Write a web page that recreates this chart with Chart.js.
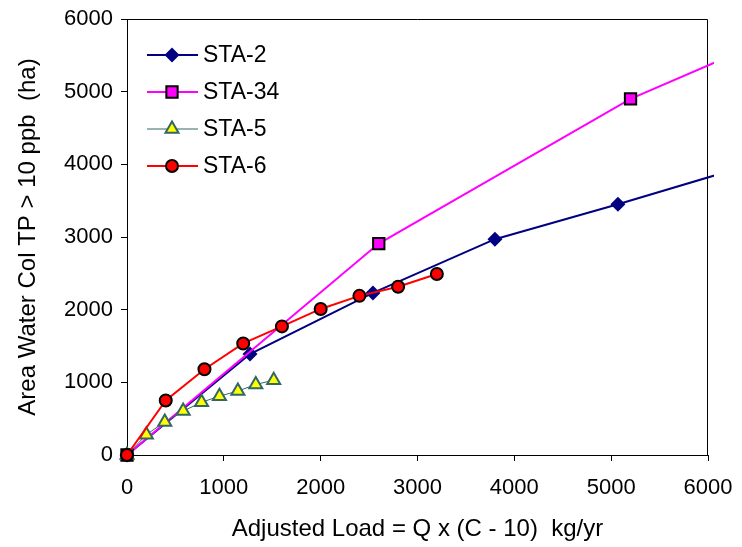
<!DOCTYPE html>
<html>
<head>
<meta charset="utf-8">
<script src="https://cdn.jsdelivr.net/npm/chart.js@4/dist/chart.umd.min.js"></script>
<style>
  body { margin: 0; background: #fff; }
  canvas { display: block; }
</style>
</head>
<body>
<canvas id="myChart" width="742" height="547"></canvas>
<script>
// datos
const labels = ["STA-2", "STA-34", "STA-5", "STA-6"];

const sta2X = [0, 1270, 2540, 3800, 5070, 6340];
const sta2Y = [0, 1390, 2230, 2970, 3450, 3955];

const sta34X = [0, 2600, 5200, 7800];
const sta34Y = [0, 2910, 4900, 6400];

const sta5X = [0, 200, 390, 580, 770, 955, 1145, 1330, 1515];
const sta5Y = [0, 280, 455, 605, 725, 810, 880, 970, 1030];

const sta6X = [0, 400, 800, 1200, 1600, 2000, 2400, 2800, 3200];
const sta6Y = [0, 750, 1180, 1535, 1770, 2010, 2190, 2315, 2490];

const xTicks = [0, 1000, 2000, 3000, 4000, 5000, 6000];
const yTicks = [0, 1000, 2000, 3000, 4000, 5000, 6000];

const FONT = "'Liberation Sans', Arial, sans-serif";

function puntos(xs, ys) {
  return xs.map((x, i) => ({ x: x, y: ys[i] }));
}

const clipArea = { left: 10, top: 10, right: 6, bottom: 10 };

// borde superior y derecho del area
const bordePlugin = {
  id: "borde",
  beforeDatasetsDraw(chart) {
    const a = chart.chartArea;
    const c = chart.ctx;
    c.save();
    c.strokeStyle = "#000";
    c.lineWidth = 1;
    c.beginPath();
    c.moveTo(a.left, a.top + 0.5);
    c.lineTo(a.right - 0.5, a.top + 0.5);
    c.lineTo(a.right - 0.5, a.bottom);
    c.stroke();
    c.restore();
  },
};

// leyenda estilo excel: linea + marcador
const leyendaPlugin = {
  id: "leyenda",
  afterDatasetsDraw(chart) {
    const c = chart.ctx;
    const rows = [55, 92, 129, 166];
    chart.data.datasets.forEach((ds, i) => {
      const y = rows[i];
      c.save();
      c.strokeStyle = ds.borderColor;
      c.lineWidth = ds.borderWidth;
      c.beginPath();
      c.moveTo(147, y);
      c.lineTo(198, y);
      c.stroke();
      c.fillStyle = ds.pointBackgroundColor;
      c.strokeStyle = ds.pointBorderColor;
      c.lineWidth = ds.pointBorderWidth;
      Chart.helpers.drawPoint(c, { pointStyle: ds.pointStyle, radius: ds.pointRadius, rotation: 0, borderWidth: ds.pointBorderWidth }, 172, y);
      c.fillStyle = "#000";
      c.font = "23px " + FONT;
      c.textAlign = "left";
      c.textBaseline = "middle";
      c.fillText(ds.label, 203, y + 1);
      c.restore();
    });
  },
};

new Chart(document.getElementById("myChart"), {
  type: "line",
  data: {
    datasets: [
      {
        label: labels[0],
        data: puntos(sta2X, sta2Y),
        borderColor: "#000080",
        borderWidth: 2,
        pointStyle: "rectRot",
        pointRadius: 7.5,
        pointBackgroundColor: "#000080",
        pointBorderColor: "#000080",
        pointBorderWidth: 0,
        clip: clipArea,
        order: 4,
      },
      {
        label: labels[1],
        data: puntos(sta34X, sta34Y),
        borderColor: "#FF00FF",
        borderWidth: 2,
        pointStyle: "rect",
        pointRadius: 8,
        pointBackgroundColor: "#FF00FF",
        pointBorderColor: "#000000",
        pointBorderWidth: 2,
        clip: clipArea,
        order: 3,
      },
      {
        label: labels[2],
        data: puntos(sta5X, sta5Y),
        borderColor: "#336666",
        borderWidth: 1,
        pointStyle: "triangle",
        pointRadius: 7.5,
        pointBackgroundColor: "#FFFF00",
        pointBorderColor: "#336666",
        pointBorderWidth: 2,
        clip: clipArea,
        order: 2,
      },
      {
        label: labels[3],
        data: puntos(sta6X, sta6Y),
        borderColor: "#FF0000",
        borderWidth: 2,
        pointStyle: "circle",
        pointRadius: 6,
        pointBackgroundColor: "#FF0000",
        pointBorderColor: "#000000",
        pointBorderWidth: 2,
        clip: clipArea,
        order: 1,
      },
    ],
  },
  options: {
    responsive: false,
    animation: false,
    devicePixelRatio: 1,
    layout: { padding: { top: 19, right: 34, bottom: 0, left: 0 } },
    plugins: {
      legend: { display: false },
      tooltip: { enabled: false },
    },
    elements: { line: { tension: 0 } },
    scales: {
      x: {
        type: "linear",
        min: 0,
        max: 6000,
        afterBuildTicks: (s) => { s.ticks = xTicks.map((v) => ({ value: v })); },
        afterFit: (s) => { s.height = 92; s.paddingLeft = 0; s.paddingRight = 0; },
        grid: { drawOnChartArea: false, tickLength: 6, color: "#000" },
        border: { color: "#000", width: 1 },
        ticks: { color: "#000", padding: 14, font: { family: FONT, size: 22 }, maxRotation: 0, callback: (v) => String(v) },
        title: {
          display: true,
          text: "Adjusted Load = Q x (C - 10)  kg/yr",
          color: "#000",
          font: { family: FONT, size: 24 },
          padding: { top: 0, bottom: 3 },
        },
      },
      y: {
        type: "linear",
        min: 0,
        max: 6000,
        afterBuildTicks: (s) => { s.ticks = yTicks.map((v) => ({ value: v })); },
        afterFit: (s) => { s.width = 127; s.paddingTop = 0; s.paddingBottom = 0; },
        grid: { drawOnChartArea: false, tickLength: 6, color: "#000" },
        border: { color: "#000", width: 1 },
        ticks: { color: "#000", padding: 8, font: { family: FONT, size: 22 }, callback: (v) => String(v) },
        title: {
          display: true,
          text: "Area Water Col TP > 10 ppb  (ha)",
          color: "#000",
          font: { family: FONT, size: 24 },
          padding: { top: 14, bottom: 0 },
        },
      },
    },
  },
  plugins: [bordePlugin, leyendaPlugin],
});
</script>
</body>
</html>
